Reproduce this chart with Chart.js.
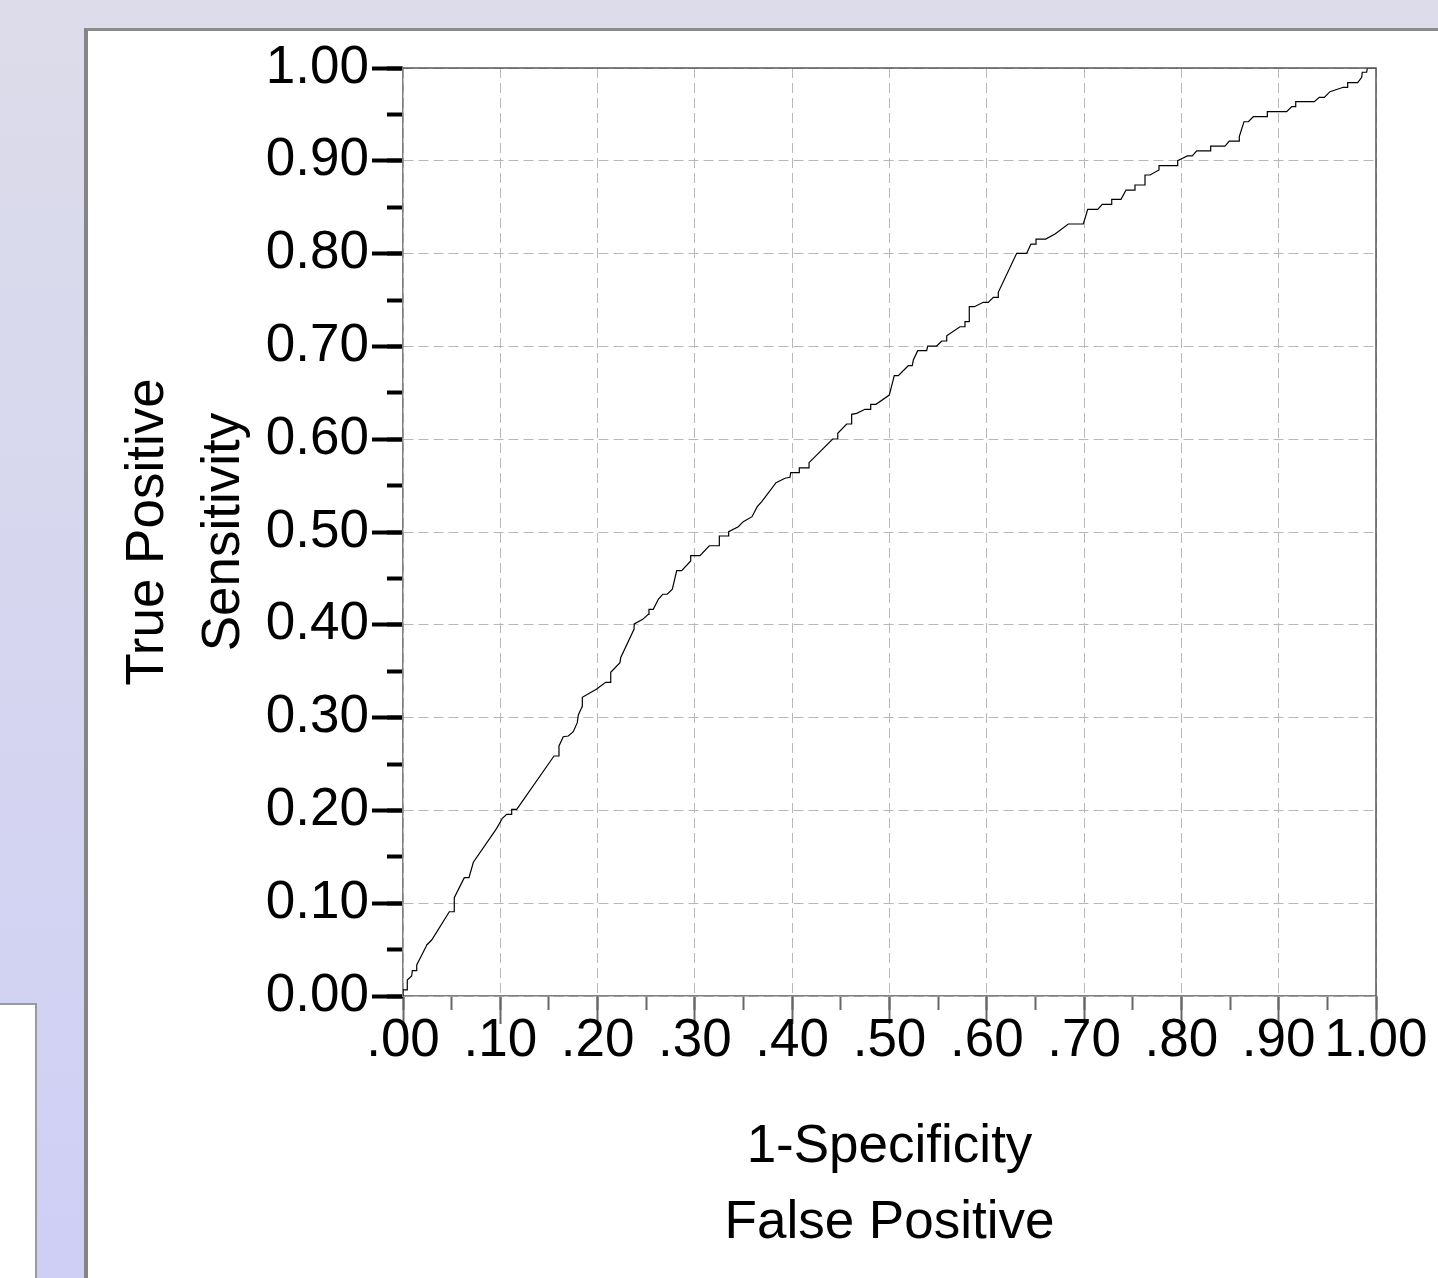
<!DOCTYPE html>
<html>
<head>
<meta charset="utf-8">
<title>ROC Curve</title>
<script src="https://cdn.jsdelivr.net/npm/chart.js@4.4.1/dist/chart.umd.min.js"></script>
<style>
    html, body { margin: 0; padding: 0; overflow: hidden; }
    body {
        width: 1438px; height: 1278px; position: relative;
        background: linear-gradient(#dcdcea, #cfcff6);
        font-family: "Liberation Sans", Arial, sans-serif;
    }
    #panel {
        position: absolute; left: 84px; top: 28px; right: -10px; bottom: -10px;
        background: #fff;
        border-left: 4px solid #858585; border-top: 3px solid #8a8a8a;
    }
    #sidebox {
        position: absolute; left: -4px; top: 1003px; width: 37px; height: 300px;
        background: #fff; border: 2px solid #9a9a9a;
    }
    #rocChart { position: absolute; left: 0; top: 0; }
</style>
</head>
<body>
<div id="panel"></div>
<div id="sidebox"></div>
<canvas id="rocChart" width="1438" height="1278"></canvas>
<script>
// 1-Specificity (false positive rate)
var fpr = [0, 0.000, 0.0044, 0.0044, 0.0089, 0.0096, 0.0141, 0.0141, 0.0236, 0.0244,
    0.0295, 0.0476, 0.0527, 0.0527, 0.0630, 0.0678, 0.0723, 0.0963, 0.1021, 0.1066,
    0.1117, 0.1117, 0.1169, 0.1552, 0.1603, 0.1603, 0.1647, 0.1699, 0.1750, 0.1791,
    0.1802, 0.1840, 0.1843, 0.1991, 0.2083, 0.2135, 0.2135, 0.2230, 0.2237, 0.2374,
    0.2377, 0.2464, 0.2521, 0.2528, 0.2572, 0.2624, 0.2669, 0.2716, 0.2768, 0.2813,
    0.2864, 0.2957, 0.2957, 0.3052, 0.3148, 0.3251, 0.3251, 0.3347, 0.3347, 0.3446,
    0.3497, 0.3587, 0.3641, 0.3687, 0.3834, 0.3926, 0.3977, 0.3985, 0.4073, 0.4073,
    0.4173, 0.4173, 0.4416, 0.4464, 0.4468, 0.4560, 0.4611, 0.4611, 0.4663, 0.4748,
    0.4800, 0.4807, 0.4861, 0.4998, 0.5049, 0.5090, 0.5193, 0.5234, 0.5245, 0.5290,
    0.5382, 0.5393, 0.5485, 0.5537, 0.5581, 0.5588, 0.5725, 0.5776, 0.5776, 0.5820,
    0.5820, 0.5872, 0.5964, 0.6015, 0.6067, 0.6118, 0.6118, 0.6307, 0.6410, 0.6454,
    0.6506, 0.6506, 0.6605, 0.6701, 0.6838, 0.6992, 0.7037, 0.7140, 0.7187, 0.7284,
    0.7284, 0.7379, 0.7431, 0.7523, 0.7523, 0.7626, 0.7626, 0.7677, 0.7770, 0.7770,
    0.7962, 0.7962, 0.8013, 0.8061, 0.8112, 0.8157, 0.8301, 0.8301, 0.8448, 0.8492,
    0.8592, 0.8595, 0.8643, 0.8688, 0.8739, 0.8883, 0.8883, 0.9082, 0.9134, 0.9175,
    0.9175, 0.9366, 0.9417, 0.9469, 0.9527, 0.9664, 0.9709, 0.9709, 0.9812, 0.9853,
    0.9859, 0.9904, 0.9911, 1];
// Sensitivity (true positive rate)
var tpr = [0, 0.0065, 0.0065, 0.0172, 0.0216, 0.0273, 0.0273, 0.0334, 0.0531, 0.0550,
    0.0603, 0.0908, 0.0908, 0.1059, 0.1275, 0.1275, 0.1441, 0.1807, 0.1915, 0.1958,
    0.1958, 0.2012, 0.2012, 0.2586, 0.2586, 0.2694, 0.2794, 0.2802, 0.2848, 0.2945,
    0.3028, 0.3117, 0.3219, 0.3308, 0.3380, 0.3380, 0.3488, 0.3592, 0.3645, 0.3951,
    0.4009, 0.4059, 0.4113, 0.4167, 0.4167, 0.4275, 0.4329, 0.4329, 0.4383, 0.4583,
    0.4583, 0.4688, 0.4745, 0.4745, 0.4852, 0.4852, 0.4957, 0.4957, 0.5003, 0.5057,
    0.5111, 0.5165, 0.5273, 0.5327, 0.5531, 0.5579, 0.5589, 0.5639, 0.5639, 0.5690,
    0.5690, 0.5747, 0.6002, 0.6002, 0.6064, 0.6164, 0.6164, 0.6268, 0.6279, 0.6322,
    0.6322, 0.6376, 0.6376, 0.6476, 0.6684, 0.6684, 0.6792, 0.6792, 0.6853, 0.6954,
    0.6954, 0.7004, 0.7004, 0.7058, 0.7058, 0.7115, 0.7212, 0.7212, 0.7266, 0.7266,
    0.7428, 0.7428, 0.7475, 0.7475, 0.7529, 0.7529, 0.7583, 0.8003, 0.8003, 0.8103,
    0.8103, 0.8157, 0.8157, 0.8211, 0.8319, 0.8319, 0.8477, 0.8477, 0.8531, 0.8531,
    0.8585, 0.8585, 0.8685, 0.8685, 0.8739, 0.8739, 0.8847, 0.8847, 0.8901, 0.8947,
    0.8947, 0.9001, 0.9027, 0.9052, 0.9052, 0.9106, 0.9106, 0.9159, 0.9159, 0.9213,
    0.9213, 0.9260, 0.9421, 0.9421, 0.9475, 0.9475, 0.9529, 0.9529, 0.9583, 0.9583,
    0.9637, 0.9637, 0.9684, 0.9684, 0.9745, 0.9792, 0.9792, 0.9842, 0.9842, 0.9900,
    0.9954, 0.9954, 1, 1];

var xTickLabels = ['.00', '.10', '.20', '.30', '.40', '.50', '.60', '.70', '.80', '.90', '1.00'];
var yTickLabels = ['0.00', '0.10', '0.20', '0.30', '0.40', '0.50', '0.60', '0.70', '0.80', '0.90', '1.00'];
var xTitle = ['1-Specificity', 'False Positive'];
var yTitle = ['True Positive', 'Sensitivity'];

// gabungkan jadi titik {x, y}
var points = [];
for (var i = 0; i < fpr.length; i++) {
    points.push({ x: fpr[i], y: tpr[i] });
}

var FONT = '"Liberation Sans", Arial, sans-serif';

// bingkai atas + kanan area plot
var framePlugin = {
    id: 'frame',
    afterDraw: function(chart) {
        var a = chart.chartArea, c = chart.ctx;
        c.save();
        c.strokeStyle = '#555';
        c.lineWidth = 1.5;
        c.beginPath();
        c.moveTo(a.left, a.top);
        c.lineTo(a.right, a.top);
        c.lineTo(a.right, a.bottom);
        c.stroke();
        c.restore();
    }
};

var ctx = document.getElementById('rocChart').getContext('2d');
var rocChart = new Chart(ctx, {
    type: 'scatter',
    data: {
        datasets: [{
            data: points,
            showLine: true,
            borderColor: '#000',
            borderWidth: 1.2,
            pointRadius: 0,
            tension: 0
        }]
    },
    plugins: [framePlugin],
    options: {
        responsive: false,
        animation: false,
        devicePixelRatio: 1,
        layout: { padding: { left: 0, top: 68, right: 62, bottom: 0 } },
        plugins: { legend: { display: false }, tooltip: { enabled: false } },
        scales: {
            x: {
                type: 'linear', position: 'bottom', weight: 1,
                min: 0, max: 1,
                afterFit: function(scale) { scale.height = 282; },
                ticks: {
                    stepSize: 0.1, autoSkip: false, maxRotation: 0, minRotation: 0,
                    padding: 0, color: '#000',
                    font: { family: FONT, size: 53, lineHeight: '34px' },
                    callback: function(v, idx) { return xTickLabels[idx]; }
                },
                grid: { color: '#b8b8b8', lineWidth: 1, tickLength: 28, tickColor: '#666', tickWidth: 2 },
                border: { color: '#808080', width: 1.5, dash: [10, 5] },
                title: {
                    display: true, text: xTitle, color: '#000',
                    font: { family: FONT, size: 53, lineHeight: '76px' },
                    padding: { top: 0, bottom: 17 }
                }
            },
            x2: {
                type: 'linear', position: 'bottom', weight: 0,
                min: 0, max: 1,
                afterFit: function(scale) { scale.height = 0; },
                ticks: { stepSize: 0.05, display: false, autoSkip: false },
                grid: { drawOnChartArea: false, tickLength: 14, tickColor: '#666', tickWidth: 2 },
                border: { display: false }
            },
            y: {
                type: 'linear', position: 'left', weight: 1,
                min: 0, max: 1,
                afterFit: function(scale) { scale.width = 403; },
                ticks: {
                    stepSize: 0.1, autoSkip: false, padding: 3, color: '#000',
                    font: { family: FONT, size: 53 },
                    callback: function(v, idx) { return yTickLabels[idx]; }
                },
                grid: { color: '#b8b8b8', lineWidth: 1, tickLength: 31, tickColor: '#000', tickWidth: 4 },
                border: { color: '#808080', width: 1.5, dash: [10, 5] },
                title: {
                    display: true, text: yTitle, color: '#000',
                    font: { family: FONT, size: 53, lineHeight: '76px' },
                    padding: { top: 110, bottom: 0 }
                }
            },
            y2: {
                type: 'linear', position: 'left', weight: 0,
                min: 0, max: 1,
                afterFit: function(scale) { scale.width = 0; },
                ticks: { stepSize: 0.05, display: false, autoSkip: false },
                grid: { drawOnChartArea: false, tickLength: 16, tickColor: '#000', tickWidth: 4 },
                border: { display: false }
            }
        }
    }
});
</script>
</body>
</html>
